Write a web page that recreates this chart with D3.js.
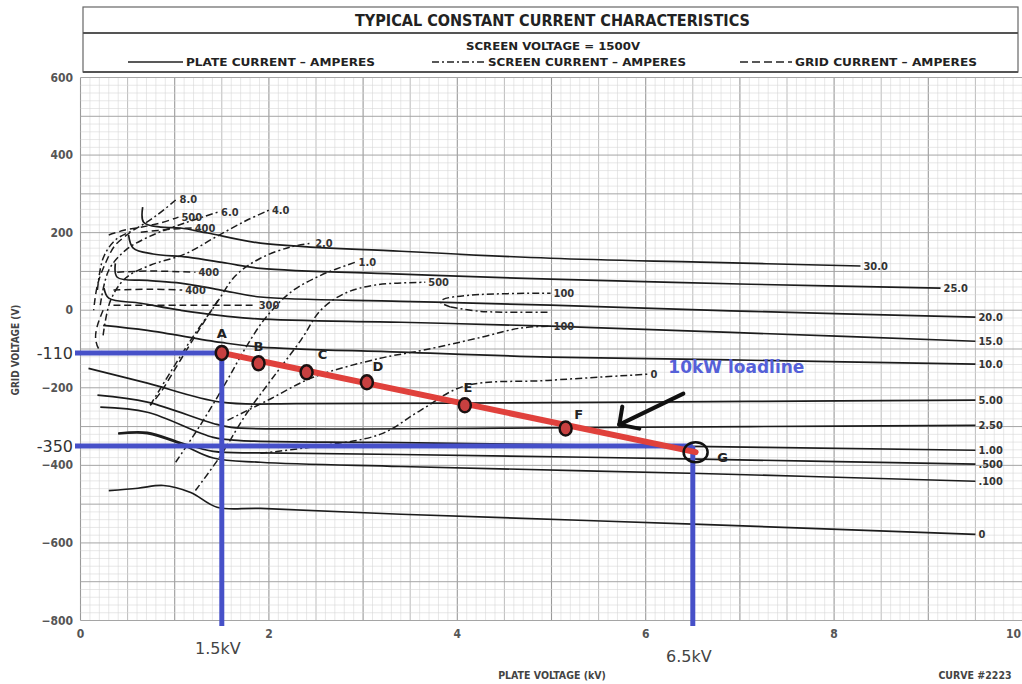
<!DOCTYPE html>
<html><head><meta charset="utf-8">
<script src="https://cdn.jsdelivr.net/npm/d3@7"></script>
<style>
body{margin:0;background:#fff;}
svg{display:block;}
.cond{font-family:"DejaVu Sans Condensed","Liberation Sans Narrow","DejaVu Sans",sans-serif;font-stretch:condensed;font-weight:bold;}
.sans{font-family:"DejaVu Sans","Liberation Sans",sans-serif;}
</style></head><body>
<svg id="c" width="1022" height="684"></svg>
<script>
// ---------- text ----------
const title = "TYPICAL CONSTANT CURRENT CHARACTERISTICS";
const subtitle = "SCREEN VOLTAGE = 1500V";
const legendTexts = ["PLATE CURRENT – AMPERES", "SCREEN CURRENT – AMPERES", "GRID CURRENT – AMPERES"];
const xTicks = [0, 2, 4, 6, 8, 10];
const yTicks = [600, 400, 200, 0, -200, -400, -600, -800];
const xTitle = "PLATE VOLTAGE (kV)";
const yTitle = "GRID VOLTAGE (V)";
const curveNo = "CURVE #2223";

// ---------- plate current curves (kV, V) ----------
const plateLabels = ["30.0","25.0","20.0","15.0","10.0","5.00","2.50","1.00",".500",".100","0"];
const plate30 = [[0.66,266],[0.67,227],[0.85,214],[1.06,212],[1.35,199],[1.91,173],[3.40,152],[4.99,134],[6.58,124],[8.28,114]];
const plate25 = [[0.51,194],[0.56,160],[0.77,145],[1.14,137],[1.56,121],[1.91,108],[3.40,93],[4.99,80],[7.11,67],[9.13,57]];
const plate20 = [[0.37,121],[0.39,85],[0.71,77],[1.06,70],[1.49,52],[1.91,34],[3.40,23],[4.99,13],[7.11,-3],[9.50,-18]];
const plate15 = [[0.25,57],[0.30,31],[0.64,18],[1.06,0],[1.80,-21],[3.40,-31],[4.99,-41],[7.11,-59],[9.50,-80]];
const plate10 = [[0.24,-39],[0.71,-52],[1.49,-83],[1.91,-95],[3.40,-108],[4.99,-121],[7.11,-129],[9.50,-139]];
const plate5  = [[0.085,-150],[0.71,-188],[1.49,-237],[2.34,-241],[4.46,-239],[7.11,-235],[9.50,-232]];
const plate2_5= [[0.18,-219],[0.71,-237],[1.41,-292],[1.60,-302],[2.34,-306],[4.46,-304],[7.11,-300],[9.50,-297]];
const plate1  = [[0.21,-250],[0.71,-263],[1.41,-328],[1.70,-336],[3.18,-341],[5.52,-348],[9.50,-361]];
const plate0_5= [[0.40,-317],[0.71,-315],[1.06,-341],[1.41,-364],[1.91,-368],[3.40,-372],[6.58,-384],[9.50,-397]];
const plate0_1= [[0.40,-319],[0.71,-318],[1.06,-345],[1.41,-381],[1.91,-392],[3.40,-403],[6.58,-421],[9.50,-441]];
const plate0  = [[0.30,-465],[0.61,-459],[0.88,-452],[1.17,-470],[1.45,-508],[1.91,-511],[3.40,-526],[6.58,-552],[9.50,-578]];

// ---------- screen current curves ----------
const screenLabels = ["8.0","6.0","4.0","2.0","1.0","500","100","100","0"];
const screen8  = [[0.18,52],[0.24,134],[0.37,181],[0.58,209],[0.80,243],[1.02,286]];
const screen6  = [[0.21,13],[0.30,103],[0.48,155],[0.74,191],[1.11,225],[1.46,253]];
const screen4  = [[0.24,-65],[0.32,26],[0.48,83],[0.74,116],[1.11,145],[1.43,188],[1.75,230],[2.00,258]];
const screen2  = [[0.74,-245],[0.98,-150],[1.22,-59],[1.43,13],[1.65,90],[1.91,134],[2.23,163],[2.46,173]];
const screen1  = [[1.01,-392],[1.27,-297],[1.54,-188],[1.75,-98],[1.96,-21],[2.23,46],[2.55,90],[2.92,124]];
const screen0_5= [[1.22,-465],[1.49,-374],[1.75,-271],[2.02,-181],[2.34,-77],[2.55,0],[2.81,44],[3.13,65],[3.66,72]];
const screen0_1a=[[3.93,8],[3.82,21],[3.85,28],[4.14,39],[4.99,44]];
const screen0_1b=[[3.93,8],[4.25,-3],[4.99,-5]];
const screen0_1c=[[1.56,-284],[1.99,-232],[2.47,-173],[3.18,-124],[3.64,-103],[4.25,-70],[4.67,-46],[4.99,-41]];
const screen0  = [[1.91,-369],[2.47,-352],[3.18,-320],[3.61,-258],[4.07,-196],[4.96,-181],[6.02,-165]];

// ---------- grid current curves ----------
const gridLabels = ["500","400","400","400","300"];
const grid500  = [[0.30,194],[0.46,206],[0.64,214],[0.85,225],[1.04,240]];
const grid400a = [[0.64,201],[0.96,209],[1.18,212]];
const grid400b = [[0.39,98],[0.74,101],[1.22,98]];
const grid400c = [[0.35,52],[0.74,54],[1.08,52]];
const grid300  = [[0.35,13],[1.06,13],[1.86,13]];
const gridEnv1 = [[0.53,201],[0.37,168],[0.27,124],[0.18,65],[0.14,0]];
const gridEnv2 = [[0.24,0],[0.18,-39],[0.16,-70],[0.19,-98],[0.27,-114]];
const gridDiag = [[1.46,26],[1.27,-46],[1.06,-129],[0.85,-212],[0.74,-245]];

// ---------- 10 kW load line ----------
const loadNames = ["A","B","C","D","E","F","G"];
const loadKV    = [1.5, 1.89, 2.40, 3.04, 4.08, 5.15, 6.53];
const loadVg    = [-110, -137, -160, -186, -245, -305, -366];
const markVg = [-110, -350];
const markKV = [1.5, 6.5];
const markVgLabels = ["-110", "-350"];
const markKVLabels = ["1.5kV", "6.5kV"];
const loadTitle = "10kW loadline";

// ---------- drawing ----------
const svg = d3.select("#c");
const x = d3.scaleLinear().domain([0, 10]).range([80.5, 1022.5]);
const y = d3.scaleLinear().domain([-800, 600]).range([620.5, 77.5]);

// grid
const grid = svg.append("g");
d3.range(0, 101).forEach(i => {
  const v = i / 10;
  grid.append("line").attr("x1", x(v)).attr("x2", x(v)).attr("y1", y(600)).attr("y2", y(-800))
    .attr("stroke", i % 10 === 0 ? "#9a9a9a" : (i % 5 === 0 ? "#b5b5b5" : "#d6d6d6"))
    .attr("stroke-width", i % 10 === 0 ? 1.1 : (i % 5 === 0 ? 0.9 : 0.6));
});
d3.range(0, 71).forEach(i => {
  const v = -800 + i * 20;
  grid.append("line").attr("y1", y(v)).attr("y2", y(v)).attr("x1", x(0)).attr("x2", x(10))
    .attr("stroke", i % 5 === 0 ? "#a5a5a5" : "#d6d6d6")
    .attr("stroke-width", i % 5 === 0 ? 1 : 0.6);
});

// header box
const hb = svg.append("g");
hb.append("rect").attr("x", 83).attr("y", 7).attr("width", 935).attr("height", 65)
  .attr("fill", "#fff").attr("stroke", "#666").attr("stroke-width", 1.2);
hb.append("line").attr("x1", 83).attr("x2", 1018).attr("y1", 33).attr("y2", 33).attr("stroke", "#555").attr("stroke-width", 2);
hb.append("line").attr("x1", 83).attr("x2", 1018).attr("y1", 72).attr("y2", 72).attr("stroke", "#555").attr("stroke-width", 2);
hb.append("text").attr("class", "cond").attr("x", 355).attr("y", 26).attr("font-size", 15)
  .attr("textLength", 395).attr("lengthAdjust", "spacingAndGlyphs").attr("fill", "#222").text(title);
hb.append("text").attr("class", "cond").attr("x", 466).attr("y", 50).attr("font-size", 11)
  .attr("textLength", 174).attr("lengthAdjust", "spacingAndGlyphs").attr("fill", "#222").text(subtitle);
const legY = 62;
const legDefs = [
  {x0: 128, x1: 183, dash: null, tx: 186, tl: 189},
  {x0: 432, x1: 486, dash: "7,3,2,3", tx: 488, tl: 198},
  {x0: 740, x1: 792, dash: "8,4", tx: 795, tl: 182}
];
legDefs.forEach((d, i) => {
  hb.append("line").attr("x1", d.x0).attr("x2", d.x1).attr("y1", legY).attr("y2", legY)
    .attr("stroke", "#222").attr("stroke-width", 1.6).attr("stroke-dasharray", d.dash);
  hb.append("text").attr("class", "cond").attr("x", d.tx).attr("y", legY + 4).attr("font-size", 11)
    .attr("textLength", d.tl).attr("lengthAdjust", "spacingAndGlyphs").attr("fill", "#222").text(legendTexts[i]);
});

// axes labels
const ax = svg.append("g").attr("fill", "#555");
yTicks.forEach(v => {
  ax.append("text").attr("class", "cond").attr("x", 73).attr("y", y(v) + 4).attr("text-anchor", "end")
    .attr("font-size", 12).text(v < 0 ? "\u2212" + Math.abs(v) : String(v));
});
xTicks.forEach(v => {
  ax.append("text").attr("class", "cond").attr("x", v === 10 ? 1021 : x(v)).attr("y", 638)
    .attr("text-anchor", v === 10 ? "end" : "middle").attr("font-size", 12).text(String(v));
});
ax.append("text").attr("class", "cond").attr("transform", "translate(19,350) rotate(-90)")
  .attr("text-anchor", "middle").attr("font-size", 10).attr("fill", "#444").text(yTitle);
ax.append("text").attr("class", "cond").attr("x", 552).attr("y", 679).attr("text-anchor", "middle")
  .attr("font-size", 10.5).attr("fill", "#444").text(xTitle);
ax.append("text").attr("class", "cond").attr("x", 975).attr("y", 679).attr("text-anchor", "middle")
  .attr("font-size", 10.5).attr("fill", "#444").text(curveNo);

// curves
const line = d3.line().x(d => x(d[0])).y(d => y(d[1])).curve(d3.curveCatmullRom.alpha(0.5));
const cg = svg.append("g").attr("fill", "none");
function drawCurve(pts, dash, lbl, w) {
  cg.append("path").attr("d", line(pts)).attr("stroke", "#1c1c1c").attr("stroke-width", w || 1.6)
    .attr("stroke-dasharray", dash);
  if (lbl) {
    const e = pts[pts.length - 1];
    svg.append("text").attr("class", "cond").attr("x", x(e[0]) + 3).attr("y", y(e[1]) + 4)
      .attr("font-size", 11).attr("fill", "#333").attr("font-weight", "normal").text(lbl);
  }
}
const plates = [plate30, plate25, plate20, plate15, plate10, plate5, plate2_5, plate1, plate0_5, plate0_1, plate0];
plates.forEach((p, i) => drawCurve(p, null, plateLabels[i], 1.7));

const screens = [screen8, screen6, screen4, screen2, screen1, screen0_5, screen0_1a, screen0_1c, screen0];
screens.forEach((p, i) => drawCurve(p, "7,3,2,3", screenLabels[i], 1.5));
drawCurve(screen0_1b, "7,3,2,3", null, 1.5);

const grids = [grid500, grid400a, grid400b, grid400c, grid300];
grids.forEach((p, i) => drawCurve(p, "7,4", gridLabels[i], 1.5));
[gridEnv1, gridEnv2, gridDiag].forEach(p => drawCurve(p, "7,4", null, 1.5));

// blue marker lines
const blue = "#4650c8";
const bg = svg.append("g");
markVg.forEach((v, i) => {
  bg.append("line").attr("x1", 75).attr("x2", x(markKV[i])).attr("y1", y(v)).attr("y2", y(v))
    .attr("stroke", blue).attr("stroke-width", 5);
  bg.append("line").attr("x1", x(markKV[i])).attr("x2", x(markKV[i])).attr("y1", y(v)).attr("y2", 626)
    .attr("stroke", blue).attr("stroke-width", 5);
  svg.append("text").attr("class", "sans").attr("x", 73).attr("y", y(v) + 6).attr("text-anchor", "end")
    .attr("font-size", 16).attr("fill", "#333").text(markVgLabels[i]);
});
markKV.forEach((v, i) => {
  svg.append("text").attr("class", "sans").attr("x", x(v) - 4).attr("y", i === 0 ? 654 : 662)
    .attr("text-anchor", "middle").attr("font-size", 16).attr("fill", "#444").text(markKVLabels[i]);
});

// load line
const lpts = loadKV.map((v, i) => [v, loadVg[i]]);
svg.append("line").attr("x1", x(lpts[0][0])).attr("y1", y(lpts[0][1]))
  .attr("x2", x(lpts[6][0])).attr("y2", y(lpts[6][1]))
  .attr("stroke", "#e0413c").attr("stroke-width", 6).attr("stroke-linecap", "round");
const offs = [[0,-20],[0,-17],[16,-18],[11,-16],[3,-18],[13,-15],[27,5]];
lpts.forEach((p, i) => {
  if (i < 6) {
    svg.append("ellipse").attr("cx", x(p[0])).attr("cy", y(p[1])).attr("rx", 6).attr("ry", 7)
      .attr("fill", "#c84040").attr("stroke", "#1a1010").attr("stroke-width", 2.5);
  } else {
    svg.append("ellipse").attr("cx", x(p[0])).attr("cy", y(p[1])).attr("rx", 12).attr("ry", 10)
      .attr("fill", "none").attr("stroke", "#111").attr("stroke-width", 2.5);
  }
  svg.append("text").attr("class", "sans").attr("x", x(p[0]) + offs[i][0]).attr("y", y(p[1]) + offs[i][1] + 5)
    .attr("text-anchor", "middle").attr("font-size", 13).attr("font-weight", "bold").attr("fill", "#222").text(loadNames[i]);
});

// annotation
svg.append("text").attr("class", "sans").attr("x", x(6.24)).attr("y", y(-162))
  .attr("font-size", 17).attr("font-weight", "bold").attr("fill", "#5560d8").text(loadTitle);
const tail = [6.4, -215], tip = [5.72, -295];
const ag = svg.append("g").attr("stroke", "#111").attr("stroke-width", 4).attr("stroke-linecap", "round");
ag.append("line").attr("x1", x(tail[0])).attr("y1", y(tail[1])).attr("x2", x(tip[0])).attr("y2", y(tip[1]));
ag.append("line").attr("x1", x(tip[0])).attr("y1", y(tip[1])).attr("x2", x(tip[0]) + 3).attr("y2", y(tip[1]) - 18);
ag.append("line").attr("x1", x(tip[0])).attr("y1", y(tip[1])).attr("x2", x(tip[0]) + 20).attr("y2", y(tip[1]) + 4);
</script>
</body></html>
